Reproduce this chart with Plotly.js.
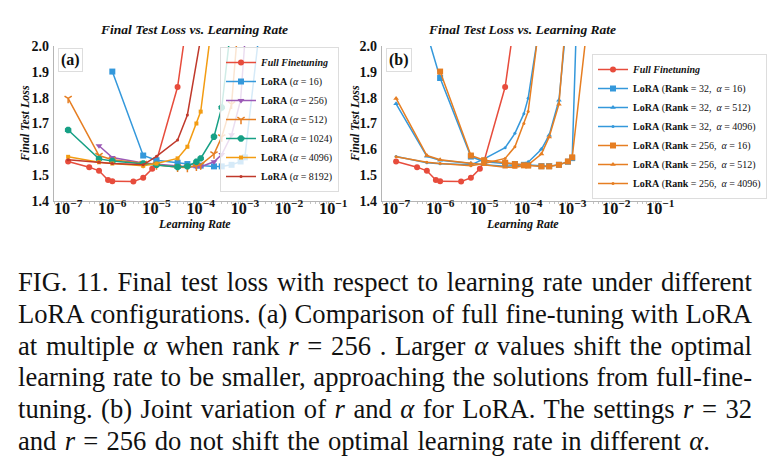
<!DOCTYPE html>
<html>
<head>
<meta charset="utf-8">
<script src="https://cdn.plot.ly/plotly-3.0.1.min.js"></script>
<style>
  html, body { margin: 0; padding: 0; background: #ffffff; }
  #wrap { position: relative; width: 771px; height: 469px; overflow: hidden; }
  #chart { position: absolute; left: 0; top: 0; width: 771px; height: 469px; }
  #caption {
    position: absolute; left: 18px; top: 267px; width: 734px;
    font-family: Liberation Serif, Times New Roman, serif;
    font-size: 26.6px; line-height: 31.8px; color: #111;
    pointer-events: none;
  }
  #caption .ln { font-size: 26.6px; text-align: justify; text-align-last: justify; white-space: nowrap; }
  #caption .ln.last { text-align-last: left; word-spacing: 1.6px; }
  #caption i { font-size: 26.6px; }
</style>
</head>
<body>
<div id="wrap">
  <div id="chart"></div>
  <div id="caption">
    <div class="ln">FIG. 11. Final test loss with respect to learning rate under different</div>
    <div class="ln">LoRA configurations. (a) Comparison of full fine-tuning with LoRA</div>
    <div class="ln">at multiple <i>α</i> when rank <i>r</i> = 256 . Larger <i>α</i> values shift the optimal</div>
    <div class="ln">learning rate to be smaller, approaching the solutions from full-fine-</div>
    <div class="ln">tuning. (b) Joint variation of <i>r</i> and <i>α</i> for LoRA. The settings <i>r</i> = 32</div>
    <div class="ln last">and <i>r</i> = 256 do not shift the optimal learning rate in different <i>α</i>.</div>
  </div>
</div>
<script>
// ---- measured final test loss per learning rate ----

// full fine-tuning
const lrFull   = [1e-7, 3e-7, 5e-7, 8e-7, 1e-6, 3e-6, 5e-6, 8e-6, 1e-5, 3e-5, 5e-5];
const lossFull = [1.553, 1.531, 1.517, 1.481, 1.476, 1.475, 1.490, 1.525, 1.555, 1.841, 2.11];

// LoRA, rank 256
const lrR256A16   = [1e-6, 5e-6, 1e-5, 3e-5, 5e-5, 8e-5, 1e-4, 2e-4, 3e-4, 5e-4, 8e-4, 1e-3, 2e-3];
const lossR256A16 = [1.901, 1.576, 1.558, 1.548, 1.543, 1.538, 1.537, 1.534, 1.534, 1.540, 1.553, 1.569, 2.02];

const lrR256A256   = [5e-7, 1e-6, 5e-6, 1e-5, 3e-5, 5e-5, 8e-5, 1e-4, 2e-4, 3e-4, 5e-4, 8e-4, 1e-3];
const lossR256A256 = [1.614, 1.568, 1.547, 1.542, 1.535, 1.533, 1.532, 1.533, 1.552, 1.580, 1.656, 1.790, 2.02];

const lrR256A512   = [1e-7, 5e-7, 1e-6, 5e-6, 1e-5, 3e-5, 5e-5, 8e-5, 1e-4, 2e-4, 3e-4, 5e-4, 8e-4];
const lossR256A512 = [1.797, 1.576, 1.560, 1.545, 1.540, 1.531, 1.530, 1.535, 1.540, 1.582, 1.648, 1.775, 2.2];

const lrR256A1024   = [1e-7, 5e-7, 1e-6, 5e-6, 1e-5, 3e-5, 5e-5, 8e-5, 1e-4, 2e-4, 3e-4, 5e-4];
const lossR256A1024 = [1.675, 1.563, 1.555, 1.545, 1.540, 1.532, 1.534, 1.552, 1.565, 1.649, 1.762, 2.1];

const lrR256A4096   = [1e-7, 5e-7, 1e-6, 5e-6, 1e-5, 3e-5, 5e-5, 8e-5, 1e-4, 2e-4];
const lossR256A4096 = [1.571, 1.550, 1.545, 1.536, 1.545, 1.565, 1.610, 1.700, 1.746, 2.15];

const lrR256A8192   = [1e-7, 5e-7, 1e-6, 5e-6, 1e-5, 3e-5, 5e-5, 1e-4];
const lossR256A8192 = [1.560, 1.550, 1.545, 1.540, 1.573, 1.636, 1.733, 2.03];

// LoRA, rank 32
const lrR32A16   = [5e-7, 1e-6, 5e-6, 1e-5, 3e-5, 5e-5, 8e-5, 1e-4, 2e-4, 3e-4, 5e-4, 8e-4, 1e-3, 2e-3];
const lossR32A16 = [2.05, 1.876, 1.572, 1.552, 1.545, 1.543, 1.540, 1.540, 1.535, 1.535, 1.540, 1.552, 1.566, 3.2];

const lrR32A512   = [1e-7, 5e-7, 1e-6, 5e-6, 1e-5, 3e-5, 5e-5, 8e-5, 1e-4, 2e-4, 3e-4, 5e-4, 8e-4];
const lossR32A512 = [1.776, 1.573, 1.558, 1.545, 1.540, 1.535, 1.536, 1.541, 1.550, 1.600, 1.655, 1.790, 2.15];

const lrR32A4096   = [1e-7, 5e-7, 1e-6, 5e-6, 1e-5, 3e-5, 5e-5, 8e-5, 1e-4, 2e-4];
const lossR32A4096 = [1.572, 1.548, 1.544, 1.540, 1.563, 1.606, 1.662, 1.738, 1.798, 2.13];

// legend labels
const namesA = [
  '<b><i>Full Finetuning</i></b>',
  '<b>LoRA</b> (<i>α</i> = 16)',
  '<b>LoRA</b> (<i>α</i> = 256)',
  '<b>LoRA</b> (<i>α</i> = 512)',
  '<b>LoRA</b> (<i>α</i> = 1024)',
  '<b>LoRA</b> (<i>α</i> = 4096)',
  '<b>LoRA</b> (<i>α</i> = 8192)'
];
const namesB = [
  '<b><i>Full Finetuning</i></b>',
  '<b>LoRA</b> (<b>Rank</b> = 32,  <i>α</i> = 16)',
  '<b>LoRA</b> (<b>Rank</b> = 32,  <i>α</i> = 512)',
  '<b>LoRA</b> (<b>Rank</b> = 32,  <i>α</i> = 4096)',
  '<b>LoRA</b> (<b>Rank</b> = 256,  <i>α</i> = 16)',
  '<b>LoRA</b> (<b>Rank</b> = 256,  <i>α</i> = 512)',
  '<b>LoRA</b> (<b>Rank</b> = 256,  <i>α</i> = 4096)'
];

const panelTitle = 'Final Test Loss vs. Learning Rate';
const xTitle = 'Learning Rate';
const yTitle = 'Final Test Loss';

// ---- styling ----
const W = 771, H = 469;
const SERIF = 'Liberation Serif, Times New Roman, serif';
const C = {
  red: '#e74c3c', blue: '#3498db', purple: '#9b59b6', orange: '#e67e22',
  green: '#16a085', amber: '#f39c12', darkred: '#c0392b'
};

function series(x, y, name, color, symbol, size, xa, ya, legend, open) {
  return {
    type: 'scatter', mode: 'lines+markers', x: x, y: y, name: name,
    xaxis: xa, yaxis: ya, legend: legend,
    line: { color: color, width: 1.5 },
    marker: open
      ? { symbol: symbol, size: size, color: color, line: { color: color, width: 1.5 } }
      : { symbol: symbol, size: size, color: color, line: { width: 0 } }
  };
}

const traces = [
  // panel (a)
  series(lrFull, lossFull, namesA[0], C.red, 'circle', 6, 'x', 'y', 'legend'),
  series(lrR256A16, lossR256A16, namesA[1], C.blue, 'square', 6, 'x', 'y', 'legend'),
  series(lrR256A256, lossR256A256, namesA[2], C.purple, 'triangle-down', 6, 'x', 'y', 'legend'),
  series(lrR256A512, lossR256A512, namesA[3], C.orange, 'y-down-open', 6, 'x', 'y', 'legend', true),
  series(lrR256A1024, lossR256A1024, namesA[4], C.green, 'octagon', 7, 'x', 'y', 'legend'),
  series(lrR256A4096, lossR256A4096, namesA[5], C.amber, 'square', 4, 'x', 'y', 'legend'),
  series(lrR256A8192, lossR256A8192, namesA[6], C.darkred, 'circle', 3, 'x', 'y', 'legend'),
  // panel (b)
  series(lrFull, lossFull, namesB[0], C.red, 'circle', 6, 'x2', 'y2', 'legend2'),
  series(lrR32A16, lossR32A16, namesB[1], C.blue, 'square', 6, 'x2', 'y2', 'legend2'),
  series(lrR32A512, lossR32A512, namesB[2], C.blue, 'triangle-up', 5, 'x2', 'y2', 'legend2'),
  series(lrR32A4096, lossR32A4096, namesB[3], C.blue, 'circle', 3, 'x2', 'y2', 'legend2'),
  series(lrR256A16, lossR256A16, namesB[4], C.orange, 'square', 6, 'x2', 'y2', 'legend2'),
  series(lrR256A512, lossR256A512, namesB[5], C.orange, 'triangle-up', 5, 'x2', 'y2', 'legend2'),
  series(lrR256A4096, lossR256A4096, namesB[6], C.orange, 'circle', 3, 'x2', 'y2', 'legend2')
];

const tickFont = { family: SERIF, size: 13, color: '#111', weight: 'bold' };
const labelFont = { family: SERIF, size: 12, color: '#111', weight: 'bold', style: 'italic' };

function xAxis(left, right, anchor) {
  return {
    type: 'log', domain: [left / W, right / W], range: [-7.32, -0.96], anchor: anchor,
    dtick: 1, exponentformat: 'power', showgrid: false, zeroline: false,
    showline: true, linecolor: '#b5b5b5', linewidth: 1.2,
    ticks: '', ticklabelstandoff: -7,
    minor: { dtick: 'D1', ticks: 'outside', ticklen: 2, tickcolor: '#c4c4c4', showgrid: false },
    tickfont: tickFont
  };
}
function yAxis(anchor) {
  return {
    domain: [1 - 201 / H, 1 - 46 / H], range: [1.4, 2.0], anchor: anchor,
    dtick: 0.1, tickformat: '.1f', showgrid: false, zeroline: false,
    showline: true, linecolor: '#b5b5b5', linewidth: 1.2, ticks: '',
    ticklabelstandoff: 1, tickfont: { family: SERIF, size: 14, color: '#111', weight: 'bold' }
  };
}

const legendBase = {
  bgcolor: 'rgba(255,255,255,0.8)', bordercolor: '#dddddd', borderwidth: 1,
  font: { family: SERIF, size: 10, color: '#111' },
  xanchor: 'left', yanchor: 'top', tracegroupgap: 0
};

function note(px, py, text, font, extra) {
  return Object.assign({
    xref: 'paper', yref: 'paper', x: px / W, y: 1 - py / H, text: text,
    showarrow: false, font: font, xanchor: 'center', yanchor: 'middle'
  }, extra || {});
}

const titleFont = { family: SERIF, size: 13.5, color: '#111', weight: 'bold', style: 'italic' };
const tagFont = { family: SERIF, size: 16, color: '#111', weight: 'bold' };
const tagBox = { xanchor: 'left', yanchor: 'top', bgcolor: '#ffffff', bordercolor: '#dddddd', borderwidth: 1, borderpad: 2 };

const layout = {
  width: W, height: H,
  margin: { l: 0, r: 0, t: 0, b: 0 },
  paper_bgcolor: '#ffffff', plot_bgcolor: '#ffffff',
  showlegend: true,
  xaxis: xAxis(54, 335, 'y'),
  yaxis: yAxis('x'),
  xaxis2: xAxis(382, 662, 'y2'),
  yaxis2: yAxis('x2'),
  legend: Object.assign({}, legendBase, { x: 220 / W, y: 1 - 47 / H }),
  legend2: Object.assign({}, legendBase, { x: 592 / W, y: 1 - 54 / H }),
  annotations: [
    note(194, 29, panelTitle, titleFont),
    note(522, 29, panelTitle, titleFont),
    note(194, 224, xTitle, labelFont),
    note(522, 224, xTitle, labelFont),
    note(25, 124, yTitle, labelFont, { textangle: -90 }),
    note(355, 124, yTitle, labelFont, { textangle: -90 }),
    note(58, 48, '(a)', tagFont, tagBox),
    note(386, 48, '(b)', tagFont, tagBox)
  ]
};

Plotly.newPlot('chart', traces, layout, { displayModeBar: false, staticPlot: true });
</script>
</body>
</html>
